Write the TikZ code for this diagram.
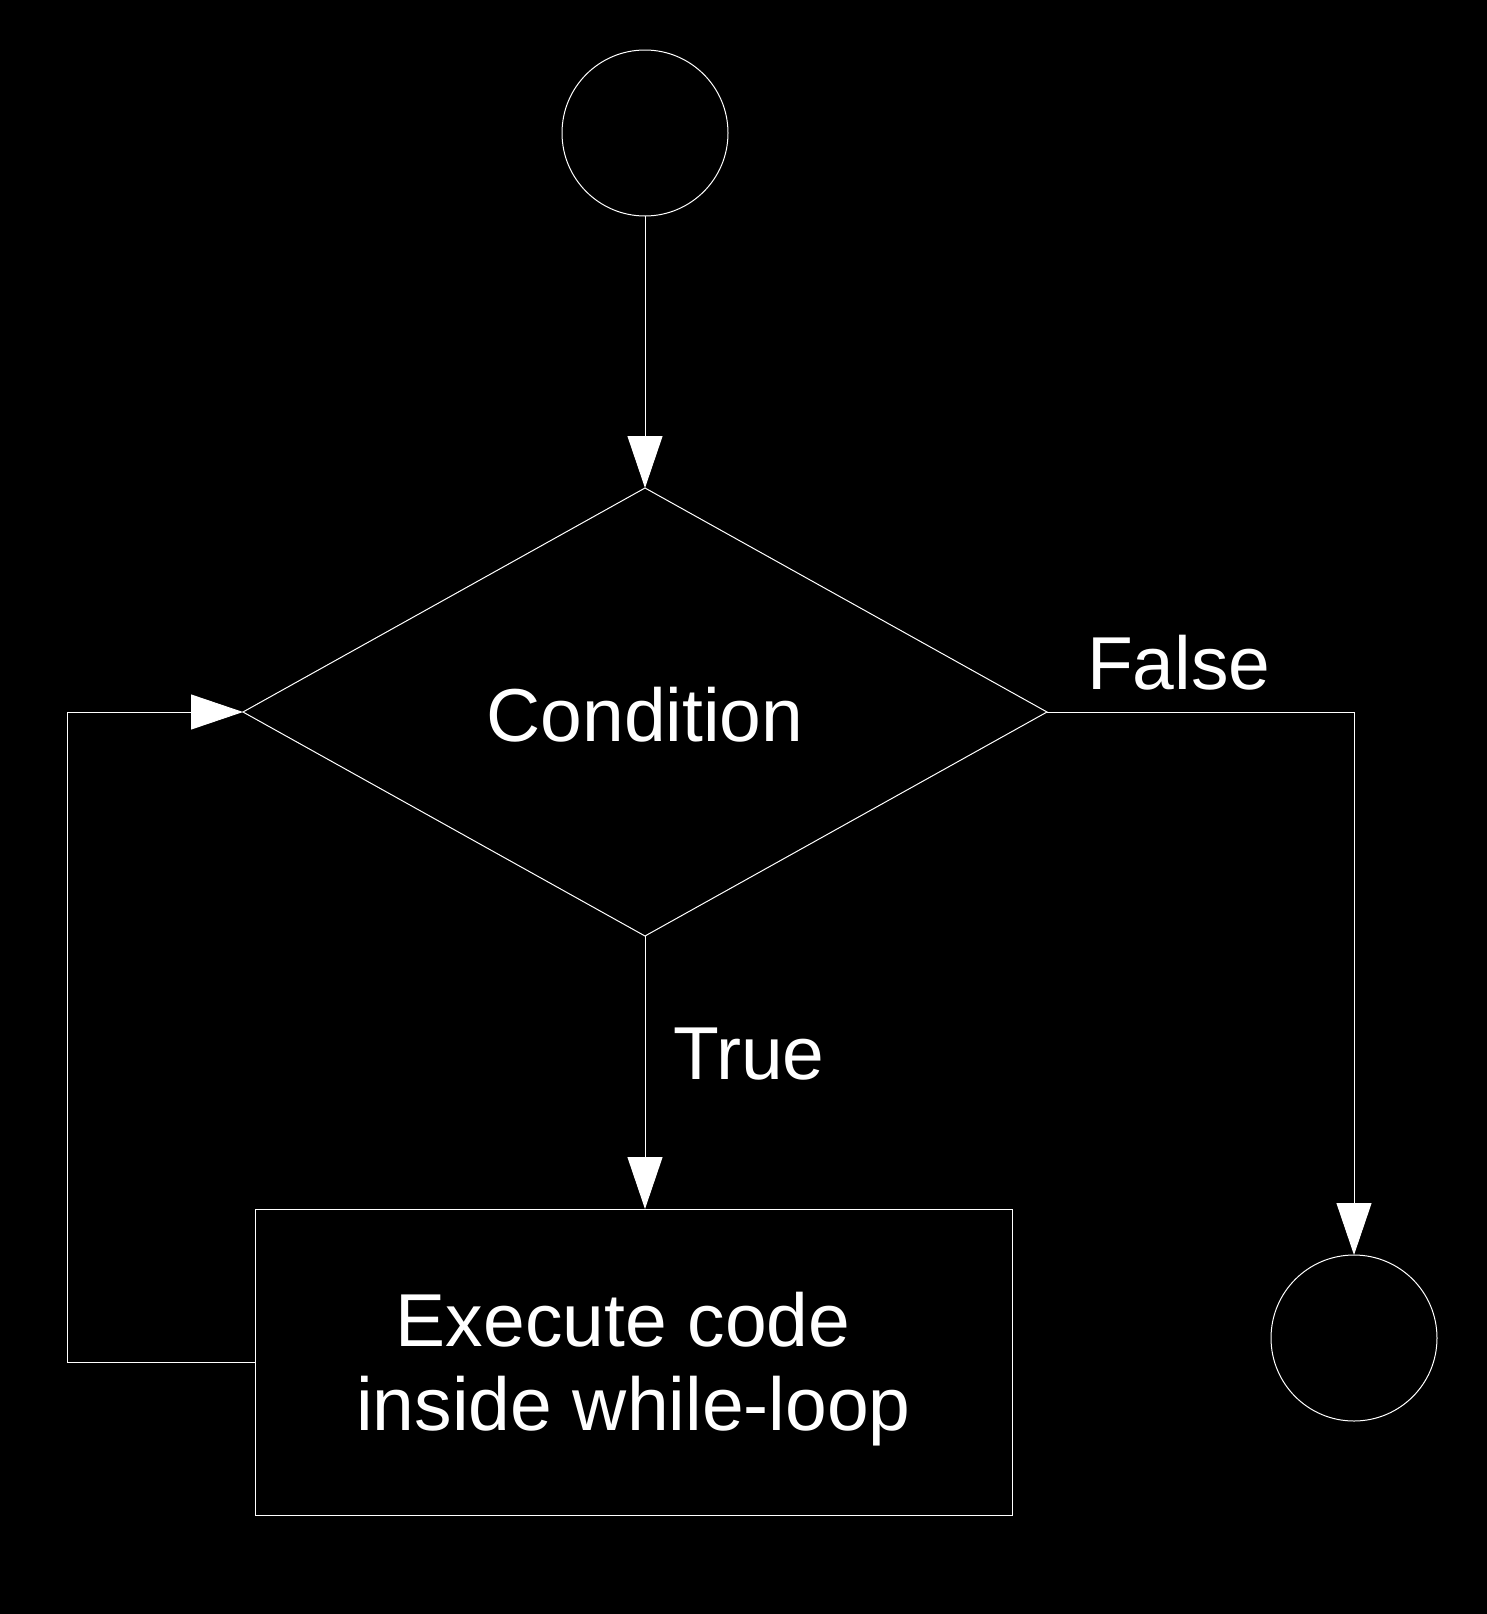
\documentclass[tikz,border=0pt]{standalone}
\usepackage{fontspec}
\setmainfont{Liberation Sans}
\usetikzlibrary{shapes.geometric,arrows.meta}
\begin{document}
\begin{tikzpicture}[x=1pt,y=-1pt,
  line width=1pt,
  every node/.style={inner sep=0pt,outer sep=0pt},
  term/.style={circle,draw=white,minimum size=166pt},
  decision/.style={diamond,draw=white,minimum width=804pt,minimum height=448pt},
  process/.style={rectangle,draw=white,minimum width=757pt,minimum height=306pt},
  txt/.style={text=white,font=\fontsize{75}{84}\selectfont},
  flow/.style={draw=white,-{Triangle[length=52pt,width=35pt]}},
  plain/.style={draw=white}]
\fill[black] (0,0) rectangle (1487,1614);
\useasboundingbox (0,0) rectangle (1487,1614);

\node[term] (start) at (645,133) {};
\node[decision] (cond) at (645,712) {};
\node[process] (exec) at (633.5,1362) {};
\node[term] (stop) at (1354,1338) {};

\node[txt,anchor=base] (condtxt) at (645,741) {Condition};
\node[txt,align=center] (exectxt) at (633.5,1369) {Execute code\kern0.278em\\inside while-loop};
\node[txt,anchor=base west] (falsetxt) at (1087,689) {False};
\node[txt,anchor=base west] (truetxt) at (673,1079) {True};

\coordinate (loopc) at (67,1362);

\draw[flow] (start.south) -- (cond.north);
\draw[flow] (cond.south) -- (cond.south |- exec.north);
\draw[flow] (cond.east) -| (stop.north);
\draw[flow] (exec.west) -- (loopc) |- (cond.west);
\end{tikzpicture}
\end{document}
